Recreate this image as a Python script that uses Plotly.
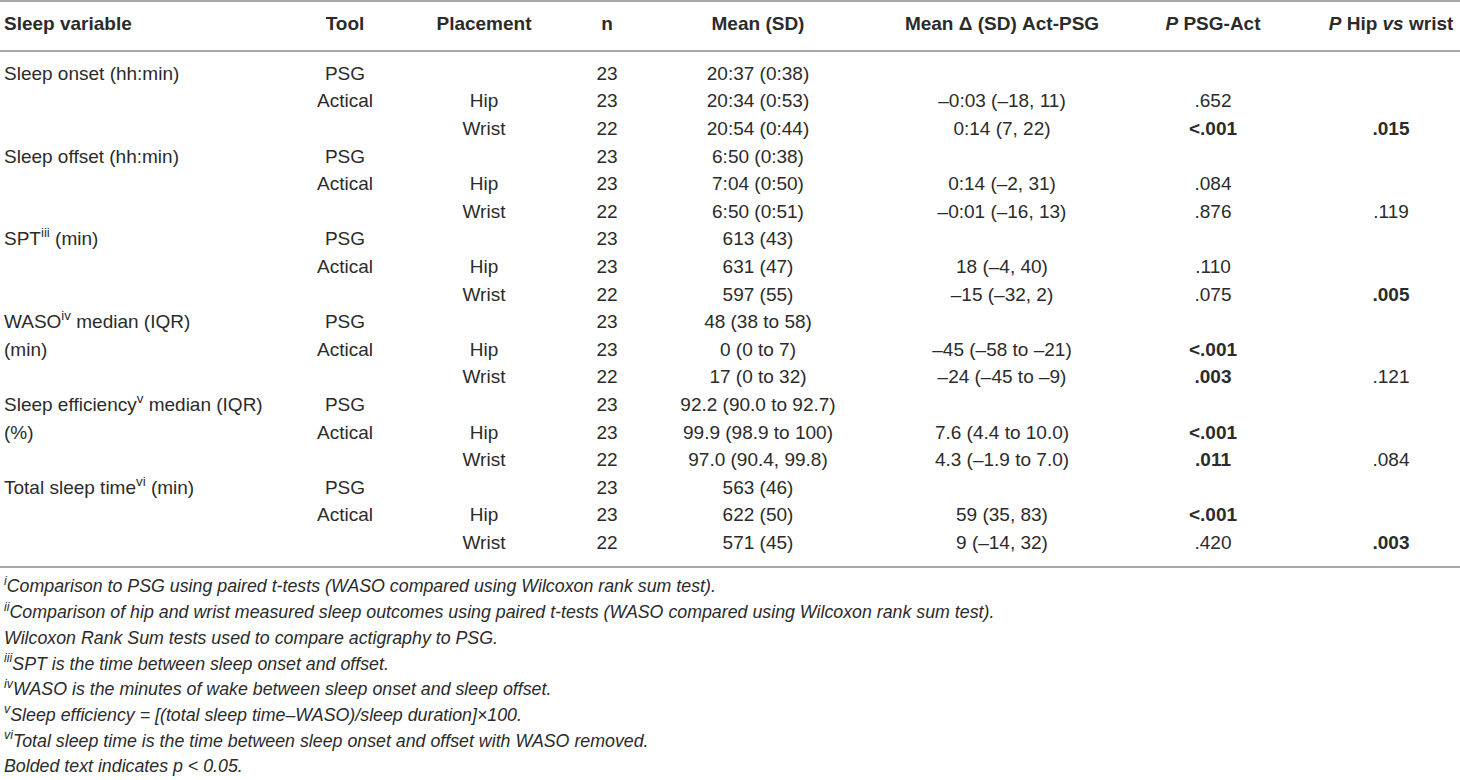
import plotly.graph_objects as go

# table content, one list per column (18 body rows)
headers = ["Sleep variable", "Tool", "Placement", "n", "Mean (SD)",
           "Mean Δ (SD) Act-PSG", "<i>P</i> PSG-Act", "<i>P</i> Hip <i>vs</i> wrist"]

sleep_variable = ["Sleep onset (hh:min)", "", "",
                  "Sleep offset (hh:min)", "", "",
                  "SPT<sup>iii</sup> (min)", "", "",
                  "WASO<sup>iv</sup> median (IQR)", "(min)", "",
                  "Sleep efficiency<sup>v</sup> median (IQR)", "(%)", "",
                  "Total sleep time<sup>vi</sup> (min)", "", ""]
tool = ["PSG", "Actical", ""] * 6
placement = ["", "Hip", "Wrist"] * 6
n = [23, 23, 22, 23, 23, 22, 23, 23, 22, 23, 23, 22, 23, 23, 22, 23, 23, 22]
mean_sd = ["20:37 (0:38)", "20:34 (0:53)", "20:54 (0:44)",
           "6:50 (0:38)", "7:04 (0:50)", "6:50 (0:51)",
           "613 (43)", "631 (47)", "597 (55)",
           "48 (38 to 58)", "0 (0 to 7)", "17 (0 to 32)",
           "92.2 (90.0 to 92.7)", "99.9 (98.9 to 100)", "97.0 (90.4, 99.8)",
           "563 (46)", "622 (50)", "571 (45)"]
mean_delta = ["", "–0:03 (–18, 11)", "0:14 (7, 22)",
              "", "0:14 (–2, 31)", "–0:01 (–16, 13)",
              "", "18 (–4, 40)", "–15 (–32, 2)",
              "", "–45 (–58 to –21)", "–24 (–45 to –9)",
              "", "7.6 (4.4 to 10.0)", "4.3 (–1.9 to 7.0)",
              "", "59 (35, 83)", "9 (–14, 32)"]
p_psg_act = ["", ".652", "<.001", "", ".084", ".876", "", ".110", ".075",
             "", "<.001", ".003", "", "<.001", ".011", "", "<.001", ".420"]
p_hip_wrist = ["", "", ".015", "", "", ".119", "", "", ".005",
               "", "", ".121", "", "", ".084", "", "", ".003"]

footnotes = [
    "<sup>i</sup>Comparison to PSG using paired t-tests (WASO compared using Wilcoxon rank sum test).",
    "<sup>ii</sup>Comparison of hip and wrist measured sleep outcomes using paired t-tests (WASO compared using Wilcoxon rank sum test).",
    "Wilcoxon Rank Sum tests used to compare actigraphy to PSG.",
    "<sup>iii</sup>SPT is the time between sleep onset and offset.",
    "<sup>iv</sup>WASO is the minutes of wake between sleep onset and sleep offset.",
    "<sup>v</sup>Sleep efficiency = [(total sleep time–WASO)/sleep duration]×100.",
    "<sup>vi</sup>Total sleep time is the time between sleep onset and offset with WASO removed.",
    "Bolded text indicates <i>p</i> < 0.05.",
]


def bold_if_sig(p):
    # p-values below 0.05 are printed in bold
    if p and float(p.lstrip("<")) < 0.05:
        return "<b>" + p + "</b>"
    return p


FONT = "Liberation Sans, Arial, Helvetica, sans-serif"
INK = "#2b2b2b"
RULE = "#a8a8a8"

# layout of the page (pixels)
col_x = [4, 345, 484, 607, 758, 1002, 1213, 1391]
header_y = 25
row_y0, row_dy = 75, 27.6
note_y0, note_dy = 588, 25.7

row_y = [row_y0 + i * row_dy for i in range(len(tool))]

columns = [sleep_variable, tool, placement, [str(v) for v in n], mean_sd, mean_delta,
           [bold_if_sig(p) for p in p_psg_act], [bold_if_sig(p) for p in p_hip_wrist]]

fig = go.Figure()

# header row
for i, h in enumerate(headers):
    fig.add_trace(go.Scatter(
        x=[col_x[i]], y=[header_y], mode="text", text=["<b>" + h + "</b>"],
        textposition="middle right" if i == 0 else "middle center",
        textfont=dict(family=FONT, size=19, color=INK), hoverinfo="skip",
    ))

# body columns (empty cells skipped)
for i, col in enumerate(columns):
    cells = [(y, t) for y, t in zip(row_y, col) if t]
    fig.add_trace(go.Scatter(
        x=[col_x[i]] * len(cells), y=[c[0] for c in cells], mode="text",
        text=[c[1] for c in cells],
        textposition="middle right" if i == 0 else "middle center",
        textfont=dict(family=FONT, size=19, color=INK), hoverinfo="skip",
    ))

# footnotes
fig.add_trace(go.Scatter(
    x=[4] * len(footnotes), y=[note_y0 + i * note_dy for i in range(len(footnotes))],
    mode="text", text=["<i>" + f + "</i>" for f in footnotes],
    textposition="middle right",
    textfont=dict(family=FONT, size=17.8, color=INK), hoverinfo="skip",
))

# horizontal rules
for yy in [1, 51, 567]:
    fig.add_shape(type="line", x0=0, x1=1460, y0=yy, y1=yy, xref="x", yref="y",
                  line=dict(color=RULE, width=2))

fig.update_xaxes(range=[0, 1460], visible=False, fixedrange=True)
fig.update_yaxes(range=[780, 0], visible=False, fixedrange=True)
fig.update_layout(
    width=1460, height=780,
    margin=dict(l=0, r=0, t=0, b=0),
    showlegend=False,
    plot_bgcolor="white", paper_bgcolor="white",
)

fig.write_html("out.html", config={"displayModeBar": False},
               post_script="document.body.style.margin='0';")
